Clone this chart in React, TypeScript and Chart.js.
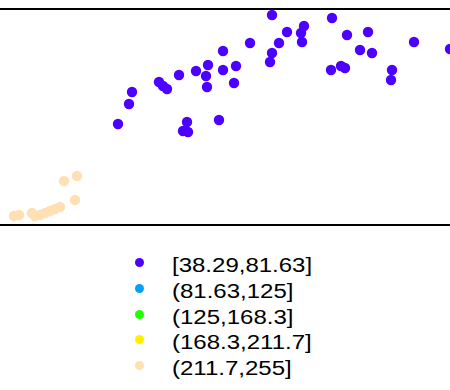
import React, { useEffect, useRef } from "react";
import { Chart, registerables } from "chart.js";

Chart.register(...registerables);

const categories = ["[38.29,81.63]", "(81.63,125]", "(125,168.3]", "(168.3,211.7]", "(211.7,255]"];
const colors = ["#4C00FF", "#00A2FF", "#1EFF00", "#FFF000", "#FFE0B3"];

const purpleX = [118, 129, 132, 159, 163, 167, 179, 196, 208, 206, 207, 223, 223, 187, 183, 188, 219, 236, 234, 250, 272, 279, 287, 304, 301, 302, 272, 270, 332, 347, 368, 360, 372, 331, 341, 345, 392, 391, 414, 450];
const purpleY = [102, 122, 134, 144, 140, 137, 151, 155, 161, 150, 139, 175, 156, 104, 95, 94, 106, 160, 143, 183, 211, 183, 194, 200, 193, 184, 173, 164, 208, 191, 194, 176, 173, 156, 160, 158, 156, 146, 184, 177];
const blueX: number[] = [];
const blueY: number[] = [];
const greenX: number[] = [];
const greenY: number[] = [];
const yellowX: number[] = [];
const yellowY: number[] = [];
const peachX = [14, 19, 32, 35, 40, 45, 50, 55, 60, 75, 64, 77];
const peachY = [10, 11, 13, 10, 11, 13, 15, 17, 19, 26, 45, 50];

const seriesX = [purpleX, blueX, greenX, yellowX, peachX];
const seriesY = [purpleY, blueY, greenY, yellowY, peachY];

const boxPlugin = {
  id: "boxBorder",
  afterDraw(chart: any) {
    const { ctx, chartArea } = chart;
    ctx.save();
    ctx.strokeStyle = "#000";
    ctx.lineWidth = 2;
    ctx.beginPath();
    ctx.moveTo(-10, chartArea.top + 1);
    ctx.lineTo(chart.width + 10, chartArea.top + 1);
    ctx.moveTo(-10, chartArea.bottom - 1);
    ctx.lineTo(chart.width + 10, chartArea.bottom - 1);
    ctx.stroke();
    ctx.restore();
  },
};

export default function App() {
  const ref = useRef<HTMLCanvasElement | null>(null);
  useEffect(() => {
    if (!ref.current) return;
    const chart = new Chart(ref.current, {
      type: "scatter",
      data: {
        datasets: categories.map((c, i) => ({
          label: c,
          data: seriesX[i].map((x, j) => ({ x, y: seriesY[i][j] })),
          backgroundColor: colors[i],
          borderColor: colors[i],
          pointRadius: 5.2,
          pointBorderWidth: 0,
          clip: false as any,
        })),
      },
      options: {
        animation: false,
        responsive: false,
        devicePixelRatio: 1,
        layout: { autoPadding: false, padding: { top: 8, bottom: 14, left: 0, right: 0 } },
        plugins: { legend: { display: false }, tooltip: { enabled: false } },
        scales: {
          x: { type: "linear", display: false, min: 0, max: 450 },
          y: { type: "linear", display: false, min: 0, max: 218 },
        },
      },
      plugins: [boxPlugin],
    });
    return () => chart.destroy();
  }, []);

  return (
    <div style={{ position: "absolute", left: 0, top: 0, width: 450, height: 390, background: "#fff", overflow: "hidden" }}>
      <canvas ref={ref} width={450} height={240} style={{ display: "block" }} />
      {categories.map((c, i) => {
        const cy = 262.5 + i * 25.8;
        return (
          <React.Fragment key={c}>
            <div
              style={{
                position: "absolute",
                left: 135,
                top: cy - 4.5,
                width: 9,
                height: 9,
                borderRadius: "50%",
                background: colors[i],
              }}
            />
            <div
              style={{
                position: "absolute",
                left: 172,
                top: cy + 9.5 - 18.1,
                fontFamily: '"Liberation Sans", Arial, sans-serif',
                fontSize: 20,
                color: "#000",
                whiteSpace: "nowrap",
                transform: "scaleX(1.2)",
                transformOrigin: "left center",
              }}
            >
              {c}
            </div>
          </React.Fragment>
        );
      })}
    </div>
  );
}
